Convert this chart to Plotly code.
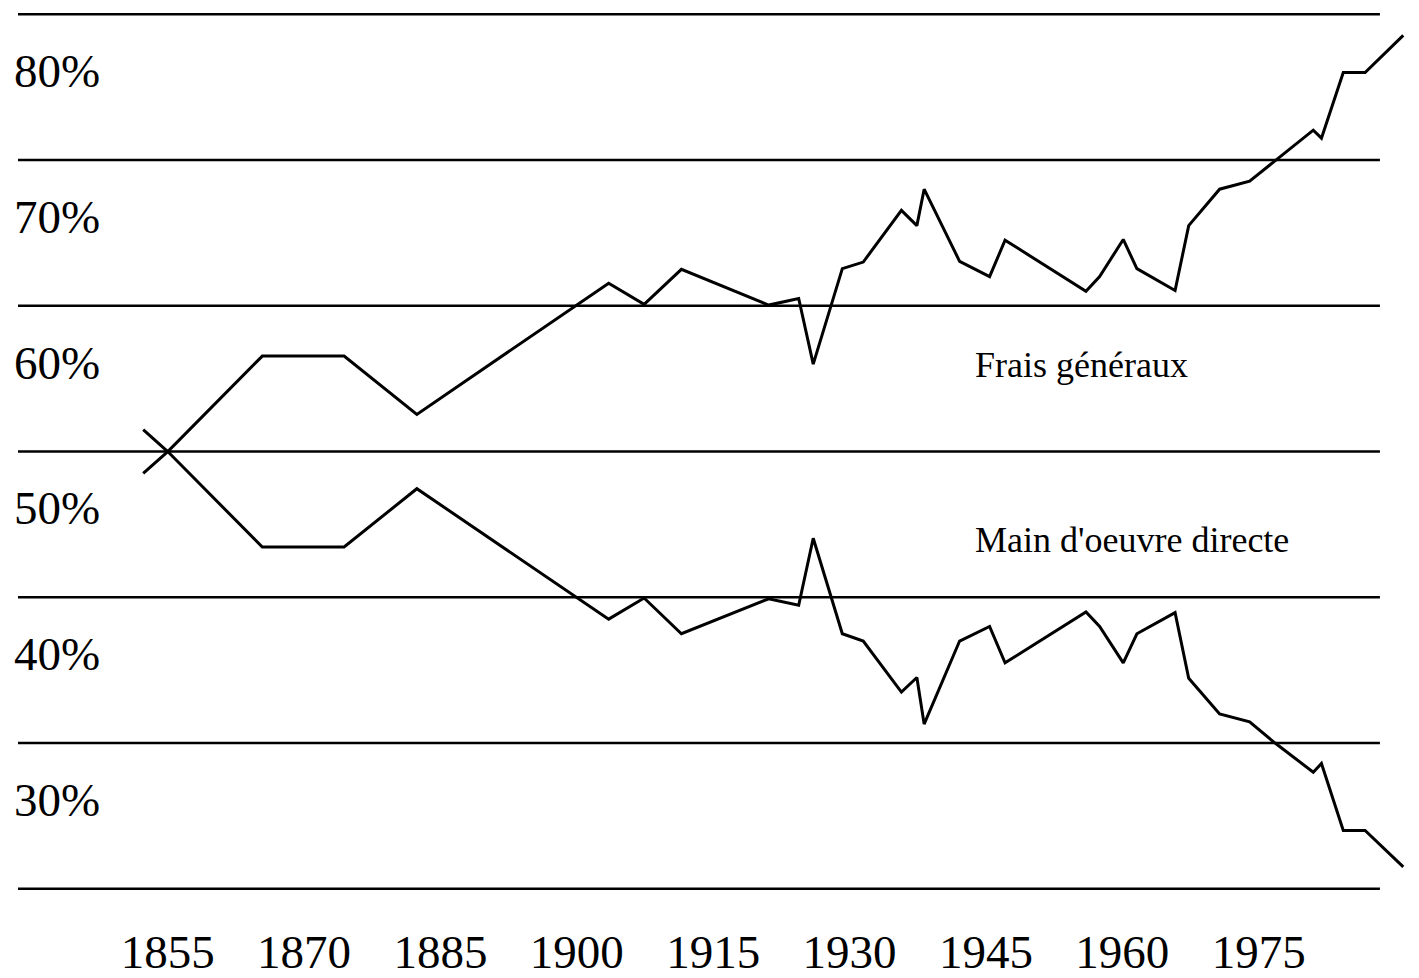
import plotly.graph_objects as go

# ---- data ----
years = [1852.3, 1855, 1865.4, 1874.4, 1882.4, 1903.5, 1907.4, 1911.5, 1921.1, 1924.4,
         1926.0, 1929.2, 1931.5, 1935.7, 1937.4, 1938.2, 1942.1, 1945.4, 1947.1, 1956.0,
         1957.5, 1960.1, 1961.6, 1965.8, 1967.3, 1970.7, 1974.0, 1976.8, 1981.0, 1981.9,
         1984.3, 1986.7, 1990.9]
frais_generaux = [48.5, 50.0, 56.55, 56.55, 52.55, 61.55, 60.1, 62.5, 60.05, 60.5,
                  56.0, 62.55, 63.0, 66.55, 65.5, 68.0, 63.05, 62.0, 64.5, 61.0,
                  62.0, 64.55, 62.55, 61.05, 65.5, 68.0, 68.55, 69.95, 72.05, 71.5,
                  76.0, 76.0, 78.55]
main_oeuvre = [51.5, 50.0, 43.45, 43.45, 47.45, 38.5, 39.95, 37.5, 39.9, 39.45,
               44.05, 37.5, 37.0, 33.5, 34.5, 31.3, 37.0, 38.0, 35.5, 39.0,
               38.0, 35.5, 37.5, 38.95, 34.45, 32.0, 31.45, 30.0, 28.0, 28.6,
               24.0, 24.0, 21.5]
x_tick_vals = [1855, 1870, 1885, 1900, 1915, 1930, 1945, 1960, 1975]
x_tick_text = ["1855", "1870", "1885", "1900", "1915", "1930", "1945", "1960", "1975"]
grid_vals = [20, 30, 40, 50, 60, 70, 80]
y_label_text = ["30%", "40%", "50%", "60%", "70%", "80%"]
y_label_grid = [30, 40, 50, 60, 70, 80]
series_labels = ["Frais généraux", "Main d'oeuvre directe"]

FONT = "Liberation Serif, Times New Roman, serif"

fig = go.Figure()
fig.add_trace(go.Scatter(x=years, y=frais_generaux, mode="lines",
                         line=dict(color="black", width=3), name=series_labels[0]))
fig.add_trace(go.Scatter(x=years, y=main_oeuvre, mode="lines",
                         line=dict(color="black", width=3), name=series_labels[1]))

shapes = []
for g in grid_vals:
    shapes.append(dict(type="line", xref="paper", yref="y", x0=0, x1=0.9784,
                       y0=g, y1=g, line=dict(color="black", width=2.5), layer="below"))

annotations = []
for g, t in zip(y_label_grid, y_label_text):
    annotations.append(dict(x=0, xref="paper", y=g - 3.9, yref="y", text=t,
                            showarrow=False, xanchor="left", yanchor="middle", xshift=-6,
                            font=dict(family=FONT, size=47, color="black")))
annotations.append(dict(x=1943.6, y=55.93, xref="x", yref="y", text=series_labels[0],
                        showarrow=False, xanchor="left", yanchor="middle",
                        font=dict(family=FONT, size=36, color="black")))
annotations.append(dict(x=1943.6, y=43.93, xref="x", yref="y", text=series_labels[1],
                        showarrow=False, xanchor="left", yanchor="middle",
                        font=dict(family=FONT, size=36, color="black")))

fig.update_layout(
    width=1411, height=970,
    margin=dict(l=10, r=9, t=0, b=80),
    paper_bgcolor="white", plot_bgcolor="white",
    showlegend=False,
    shapes=shapes, annotations=annotations,
    xaxis=dict(range=[1838.53, 1991.64], showgrid=False, zeroline=False, showline=False,
               tickmode="array", tickvals=x_tick_vals, ticktext=x_tick_text, ticks="",
               ticklabelstandoff=22,
               tickfont=dict(family=FONT, size=47, color="black"), fixedrange=True),
    yaxis=dict(range=[19.37, 80.43], showgrid=False, zeroline=False, showline=False,
               showticklabels=False, ticks="", fixedrange=True),
)

fig.write_html("out.html")
